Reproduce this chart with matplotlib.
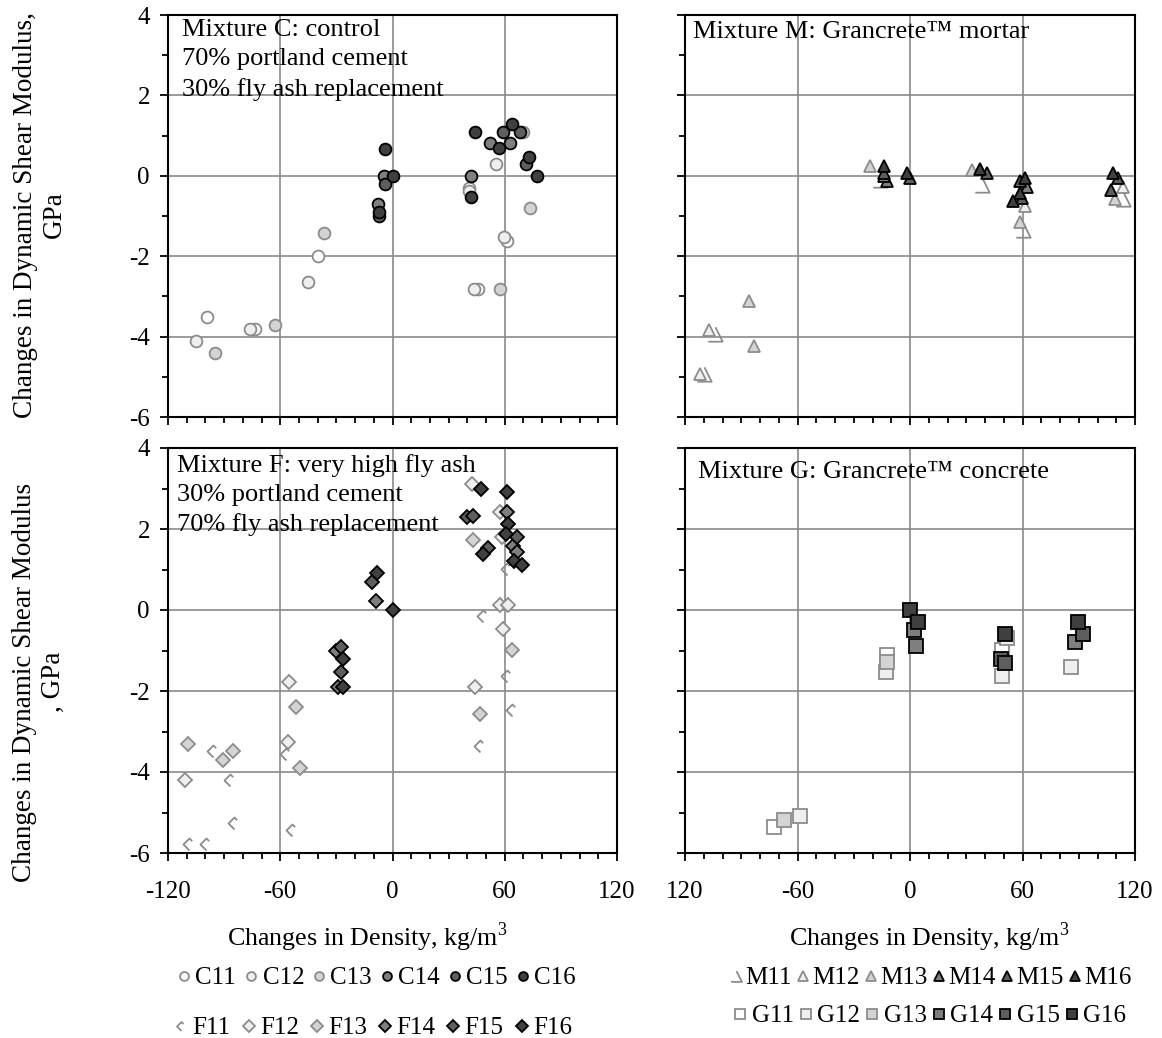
import numpy as np
import matplotlib.pyplot as plt
from matplotlib.path import Path

plt.rcParams['font.family'] = 'Liberation Serif'
plt.rcParams['mathtext.fontset'] = 'custom'
plt.rcParams['mathtext.rm'] = 'Liberation Serif'
plt.rcParams['axes.unicode_minus'] = False

# Mixture C: control (change in density kg/m3, change in shear modulus GPa)
c11_x = [-99, -73.5, -40, 41, 61, 45.5]
c11_y = [-3.5, -3.8, -2.0, -0.3, -1.63, -2.82]
c12_x = [-105, -76, -45, 41, 59.4, 43.3, 55.5]
c12_y = [-4.1, -3.8, -2.63, -0.39, -1.53, -2.82, 0.29]
c13_x = [-95, -63, -36.5, 73.3, 57.2, 70]
c13_y = [-4.4, -3.7, -1.43, -0.8, -2.82, 1.1]
c14_x = [-4.8, -8, 42.1, 51.9, 63]
c14_y = [0, -0.7, 0, 0.81, 0.81]
c15_x = [-4.1, -7, 59, 68.3, 71.5]
c15_y = [-0.21, -1.0, 1.1, 1.1, 0.29]
c16_x = [-4.1, 0.2, -7, 44.2, 56.9, 64, 72.9, 77.4, 42.1]
c16_y = [0.67, 0, -0.91, 1.1, 0.68, 1.29, 0.48, 0, -0.52]

# Mixture M: Grancrete mortar
m11_x = [-103.8, -109.7, -16, 38.3, 60.2, 113.7]
m11_y = [-3.94, -4.92, -0.1, -0.23, -1.34, -0.57]
m12_x = [-107.4, -111.8, 61.4, 113.4]
m12_y = [-3.83, -4.92, -0.76, -0.28]
m13_x = [-86.1, -83, -21.2, 33, 58.7, 109.3]
m13_y = [-3.12, -4.24, 0.25, 0.15, -1.14, -0.57]
m14_x = [-12.5, 62.3, -14.1]
m14_y = [-0.14, -0.28, 0.0]
m15_x = [-14.1, 0.1, 40.9, 58.7, 59.6, 111.1, 107]
m15_y = [0.06, -0.06, 0.06, -0.14, -0.56, -0.06, -0.35]
m16_x = [-14.1, -1.7, 37.4, 61.4, 58.7, 54.7, 108.1]
m16_y = [0.25, 0.06, 0.16, -0.06, -0.43, -0.62, 0.06]

# Mixture F: very high fly ash
f11_x = [-108.6, -99.6, -96, -87.1, -84.5, -57.1, -53.6, 61.1, 48.2, 61.1, 63.8, 46.8]
f11_y = [-5.78, -5.78, -3.49, -4.2, -5.25, -3.55, -5.42, 1.01, -0.15, -1.64, -2.47, -3.37]
f12_x = [-110.7, -55.4, -55.9, 42.3, 57.5, 58.4, 57.5, 62, 59.3, 44.1]
f12_y = [-4.2, -1.78, -3.26, 3.1, 2.42, 1.8, 0.12, 0.12, -0.48, -1.89]
f13_x = [-109.5, -90.7, -85.4, -51.8, -49.3, 43.2, 63.8, 46.8]
f13_y = [-3.3, -3.7, -3.49, -2.39, -3.9, 1.72, -0.98, -2.57]
f14_x = [-30.4, -29.1, -8.6, 61.1, 64.6, 66.4]
f14_y = [-1.02, -1.89, 0.21, 2.42, 1.59, 1.43]
f15_x = [-27.3, -27.3, -10.7, 39.6, 43.2, 66.4, 51.3]
f15_y = [-0.91, -1.52, 0.68, 2.3, 2.32, 1.8, 1.53]
f16_x = [-26.4, -26.4, -8.2, 0.4, 47.1, 61.1, 62, 60.7, 48.2, 65, 69.1]
f16_y = [-1.21, -1.89, 0.91, 0, 3.0, 2.92, 2.13, 1.88, 1.39, 1.2, 1.1]

# Mixture G: Grancrete concrete
g11_x = [-12.4, 49.2, -72.4]
g11_y = [-1.1, -0.98, -5.36]
g12_x = [-12.8, 51.9, 49.2, 86, -58.6]
g12_y = [-1.54, -0.69, -1.64, -1.41, -5.09]
g13_x = [-12.4, -67]
g13_y = [-1.29, -5.19]
g14_x = [2.2, 3.4, 87.8]
g14_y = [-0.5, -0.89, -0.79]
g15_x = [48.3, 50.5, 92.3]
g15_y = [-1.2, -1.31, -0.6]
g16_x = [0, 4, 50.5, 89.6]
g16_y = [0, -0.3, -0.59, -0.3]

X_TICKS = [-120, -60, 0, 60, 120]
LEFT_XLABELS = ["-120", "-60", "0", "60", "120"]
RIGHT_XLABELS = ["120", "-60", "0", "60", "120"]
Y_TICKS = [-6, -4, -2, 0, 2, 4]

# grey levels for specimens 11..16
FILLS = ["white", "#efefef", "#d4d4d4", "#7f7f7f", "#5e5e5e", "#404040"]
EDGES = ["#8c8c8c", "#8c8c8c", "#8c8c8c", "black", "black", "black"]

# open marks for the first specimen of F and M
OPEN_DIAMOND = Path([(0, -1), (-1, 0), (0, 1), (0.45, 0.55)])
OPEN_TRIANGLE = Path([(0, 1), (1, -1), (-1, -1)])

FS = 18
W, H = 1162, 1038


def setup_axes(ax, xlabels, ylabels):
    ax.set_xlim(-120, 120)
    ax.set_ylim(-6, 4)
    ax.set_xticks(X_TICKS)
    ax.set_xticks(np.arange(-120, 121, 10), minor=True)
    ax.set_yticks(Y_TICKS)
    ax.set_yticks(np.arange(-6, 5, 1), minor=True)
    if xlabels is None:
        ax.set_xticklabels([])
    else:
        ax.set_xticklabels(xlabels)
    if not ylabels:
        ax.set_yticklabels([])
    ax.grid(True, which='major', color='#8a8a8a', linewidth=1.2)
    ax.set_axisbelow(True)
    ax.tick_params(which='both', direction='out', top=False, right=False, width=1.3)
    ax.tick_params(which='major', length=6)
    ax.tick_params(which='minor', length=4.5)
    ax.tick_params(axis='x', pad=14, labelsize=FS)
    ax.tick_params(axis='y', pad=7, labelsize=FS)
    for s in ax.spines.values():
        s.set_linewidth(1.5)


def plot_series(ax, xs, ys, markers, size):
    handles = []
    for i, (x, y) in enumerate(zip(xs, ys)):
        m = markers[i]
        open_mark = isinstance(m, Path)
        face = 'none' if open_mark else FILLS[i]
        ln, = ax.plot(x, y, linestyle='none', marker=m,
                      markersize=size * 1.15 if open_mark else size,
                      markerfacecolor=face, markeredgecolor=EDGES[i],
                      markeredgewidth=1.3, zorder=3)
        handles.append(ln)
    return handles


def add_legend(fig, handles, labels, left_px, y_px, colsp, scale, textpad=0.2):
    fig.legend(handles, labels, ncol=6, loc='center left',
               bbox_to_anchor=(left_px / W, 1 - y_px / H), frameon=False,
               fontsize=FS, handlelength=0.5, handletextpad=textpad,
               columnspacing=colsp, borderpad=0, borderaxespad=0,
               markerscale=scale)


fig = plt.figure(figsize=(W / 100, H / 100), dpi=100)
ax_c = fig.add_axes([168 / W, 1 - 417 / H, 449 / W, 402 / H])
ax_m = fig.add_axes([685 / W, 1 - 417 / H, 450 / W, 402 / H])
ax_f = fig.add_axes([168 / W, 1 - 853 / H, 449 / W, 405 / H])
ax_g = fig.add_axes([685 / W, 1 - 853 / H, 450 / W, 405 / H])

setup_axes(ax_c, None, True)
setup_axes(ax_m, None, False)
setup_axes(ax_f, LEFT_XLABELS, True)
setup_axes(ax_g, RIGHT_XLABELS, False)

h_c = plot_series(ax_c, [c11_x, c12_x, c13_x, c14_x, c15_x, c16_x],
                  [c11_y, c12_y, c13_y, c14_y, c15_y, c16_y], ['o'] * 6, 8.5)
h_m = plot_series(ax_m, [m11_x, m12_x, m13_x, m14_x, m15_x, m16_x],
                  [m11_y, m12_y, m13_y, m14_y, m15_y, m16_y],
                  [OPEN_TRIANGLE] + ['^'] * 5, 9)
h_f = plot_series(ax_f, [f11_x, f12_x, f13_x, f14_x, f15_x, f16_x],
                  [f11_y, f12_y, f13_y, f14_y, f15_y, f16_y],
                  [OPEN_DIAMOND] + ['D'] * 5, 7.5)
h_g = plot_series(ax_g, [g11_x, g12_x, g13_x, g14_x, g15_x, g16_x],
                  [g11_y, g12_y, g13_y, g14_y, g15_y, g16_y], ['s'] * 6, 9.5)

# mixture descriptions
fig.text(182 / W, 1 - 60 / H,
         "Mixture C: control\n70% portland cement\n30% fly ash replacement",
         fontsize=19, va='center', ha='left', linespacing=1.42)
fig.text(693 / W, 1 - 32 / H, "Mixture M: Grancrete\u2122 mortar",
         fontsize=19, va='center', ha='left')
fig.text(177 / W, 1 - 495 / H,
         "Mixture F: very high fly ash\n30% portland cement\n70% fly ash replacement",
         fontsize=19, va='center', ha='left', linespacing=1.42)
fig.text(698 / W, 1 - 472 / H, "Mixture G: Grancrete\u2122 concrete",
         fontsize=19, va='center', ha='left')

# axis titles
fig.text(40 / W, 1 - 215 / H, "Changes in Dynamic Shear Modulus,\nGPa",
         rotation=90, fontsize=19.5, ha='center', va='center',
         multialignment='center', linespacing=1.25)
fig.text(39 / W, 1 - 682 / H, "Changes in Dynamic Shear Modulus\n, GPa",
         rotation=90, fontsize=19.5, ha='center', va='center',
         multialignment='center', linespacing=1.25)
fig.text(367 / W, 1 - 937 / H, "Changes in Density, kg/m$^3$",
         fontsize=18.7, ha='center', va='center')
fig.text(929 / W, 1 - 937 / H, "Changes in Density, kg/m$^3$",
         fontsize=18.7, ha='center', va='center')

add_legend(fig, h_c, ["C11", "C12", "C13", "C14", "C15", "C16"], 178, 978, 0.35, 0.75)
add_legend(fig, h_f, ["F11", "F12", "F13", "F14", "F15", "F16"], 175, 1028, 0.47, 0.75)
add_legend(fig, h_m, ["M11", "M12", "M13", "M14", "M15", "M16"], 730, 978, 0.2, 0.75, 0.12)
add_legend(fig, h_g, ["G11", "G12", "G13", "G14", "G15", "G16"], 734, 1016, 0.24, 0.7)

fig.savefig("out.png", dpi=100)
